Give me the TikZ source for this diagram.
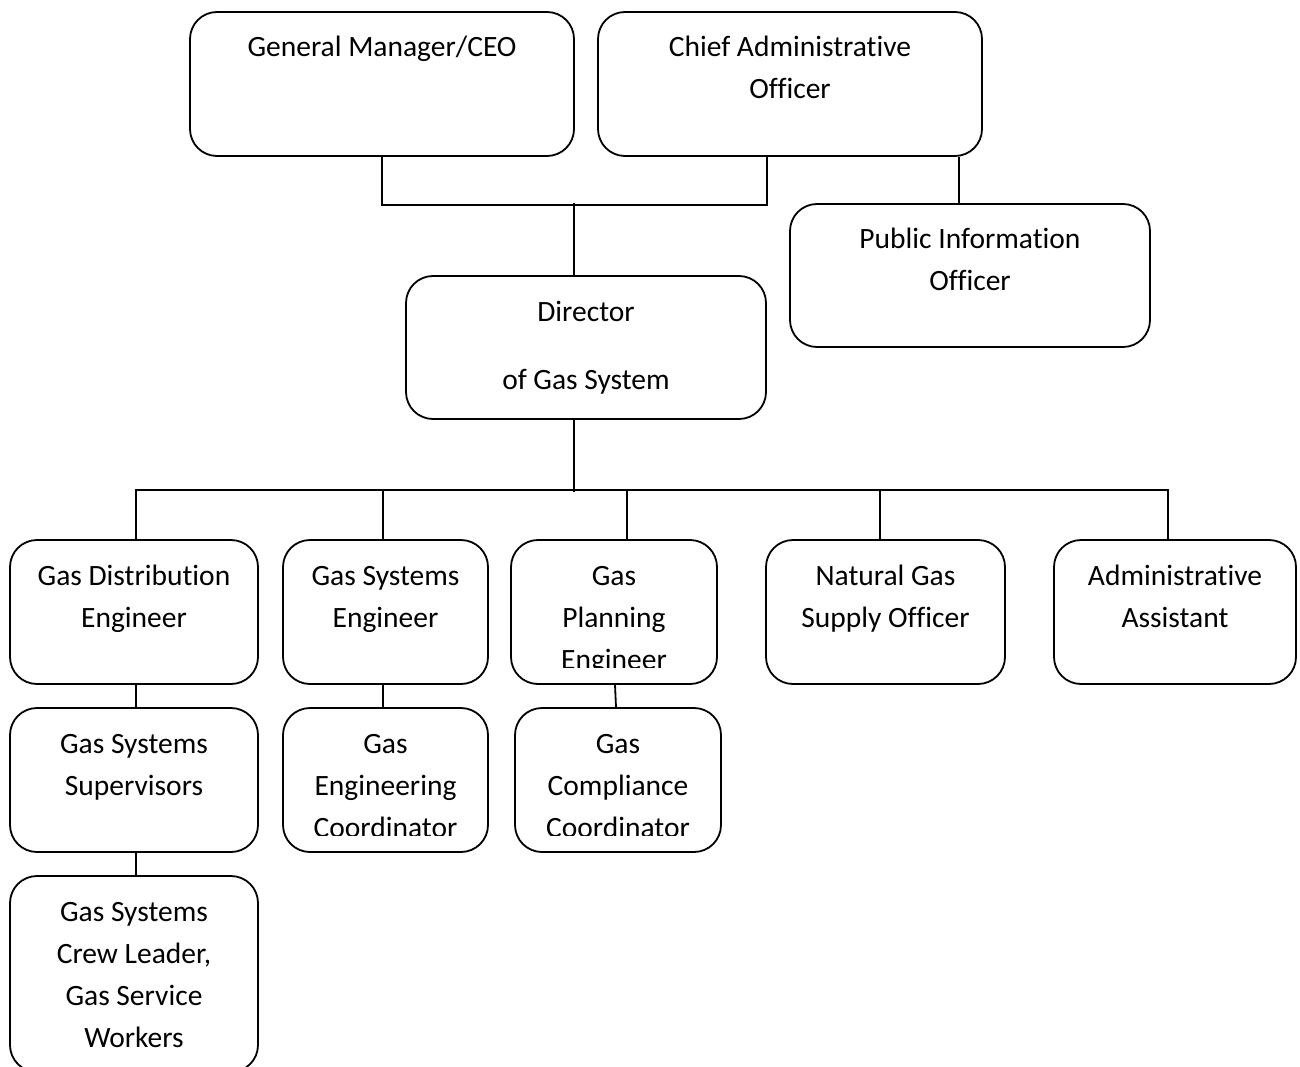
\documentclass[tikz,border=0pt]{standalone}
\usepackage{fontspec}
\setmainfont[Ligatures={NoCommon,NoContextual},RawFeature={-liga;-clig;-calt;-dlig}]{Carlito}
\usetikzlibrary{calc}
\newcommand\orgtxt[1]{\begin{tabular}[t]{@{}c@{}}#1\end{tabular}}
\tikzset{
  orgbox/.style={draw=black, line width=1.8pt, rounded corners=27pt, inner sep=0pt, fill=white},
  orgtext/.style={anchor=base, inner sep=0pt, font=\fontsize{29.5}{42}\selectfont},
  link/.style={draw=black, line width=1.8pt}
}
\begin{document}
\begin{tikzpicture}[x=1pt, y=-1pt]
\useasboundingbox[fill=white] (0,0) rectangle (1300,1067);
% boxes: centre = ((l+r)/2,(t+b)/2), size = (r-l) x (b-t)
\node[orgbox, minimum width=384pt, minimum height=144pt] (gm)  at (382,84) {};
\node[orgbox, minimum width=384pt, minimum height=144pt] (cao) at (790,84) {};
\node[orgbox, minimum width=360pt, minimum height=143pt] (pio) at (970,275.5) {};
\node[orgbox, minimum width=360pt, minimum height=143pt] (dir) at (586,347.5) {};
\node[orgbox, minimum width=248pt, minimum height=144pt] (gde)  at (134,612) {};
\node[orgbox, minimum width=205pt, minimum height=144pt] (gse)  at (385.5,612) {};
\node[orgbox, minimum width=206pt, minimum height=144pt] (gpe)  at (614,612) {};
\node[orgbox, minimum width=239pt, minimum height=144pt] (ngso) at (885.5,612) {};
\node[orgbox, minimum width=242pt, minimum height=144pt] (aa)   at (1175,612) {};
\node[orgbox, minimum width=248pt, minimum height=144pt] (gss)  at (134,780) {};
\node[orgbox, minimum width=205pt, minimum height=144pt] (gec)  at (385.5,780) {};
\node[orgbox, minimum width=206pt, minimum height=144pt] (gcc)  at (618,780) {};
\node[orgbox, minimum width=248pt, minimum height=196pt] (gscl) at (134,974) {};
% texts
\node[orgtext] (gm-t)  at (382,57)  {\orgtxt{General Manager/CEO}};
\node[orgtext] (cao-t) at (790,57)  {\orgtxt{Chief Administrative\\Officer}};
\node[orgtext] (pio-t) at (970,249) {\orgtxt{Public Information\\Officer}};
\node[orgtext] (dir-t) at (586,321) {\orgtxt{Director\\[26pt]of Gas System}};
\node[orgtext] (gde-t)  at (134,585)  {\orgtxt{Gas Distribution\\Engineer}};
\node[orgtext] (gse-t)  at (385.5,585){\orgtxt{Gas Systems\\Engineer}};
\begin{scope}
  \clip (500,540) rectangle (730,667);
  \node[orgtext] (gpe-t) at (614,585) {\orgtxt{Gas\\Planning\\Engineer}};
\end{scope}
\node[orgtext] (ngso-t) at (885.5,585){\orgtxt{Natural Gas\\Supply Officer}};
\node[orgtext] (aa-t)   at (1175,585) {\orgtxt{Administrative\\Assistant}};
\node[orgtext] (gss-t)  at (134,753)  {\orgtxt{Gas Systems\\Supervisors}};
\begin{scope}
  \clip (270,708) rectangle (740,835);
  \node[orgtext] (gec-t) at (385.5,753) {\orgtxt{Gas\\Engineering\\Coordinator}};
  \node[orgtext] (gcc-t) at (618,753)   {\orgtxt{Gas\\Compliance\\Coordinator}};
\end{scope}
\node[orgtext] (gscl-t) at (134,921) {\orgtxt{Gas Systems\\Crew Leader,\\Gas Service\\Workers}};
% connectors
\draw[link] (gm.south) -- ++(0,48) -| (cao.south -| dir.east);
\draw[link] ($(dir.north)+(-12,0)$) -- ++(0,-72);
\draw[link] ($(pio.north)+(-11,0)$) -- (cao.south -| {$(pio.north)+(-11,0)$});
\draw[link] ($(dir.south)+(-12,0)$) -- ++(0,72);
\draw[link] ($(gde.north)+(2,0)$) -- ++(0,-49) -- ($(aa.north)+(-7,-49)$) -- ($(aa.north)+(-7,0)$);
\draw[link] ($(gse.north)+(-2.5,0)$) -- ++(0,-49);
\draw[link] ($(gpe.north)+(13,0)$) -- ++(0,-49);
\draw[link] ($(ngso.north)+(-5.5,0)$) -- ++(0,-49);
\draw[link] ($(gde.south)+(2,0)$) -- ($(gss.north)+(2,0)$);
\draw[link] ($(gss.south)+(2,0)$) -- ($(gscl.north)+(2,0)$);
\draw[link] ($(gse.south)+(-2.5,0)$) -- ($(gec.north)+(-2.5,0)$);
\draw[link] ($(gpe.south)+(1,0)$) -- ($(gcc.north)+(-2,0)$);
\end{tikzpicture}
\end{document}
